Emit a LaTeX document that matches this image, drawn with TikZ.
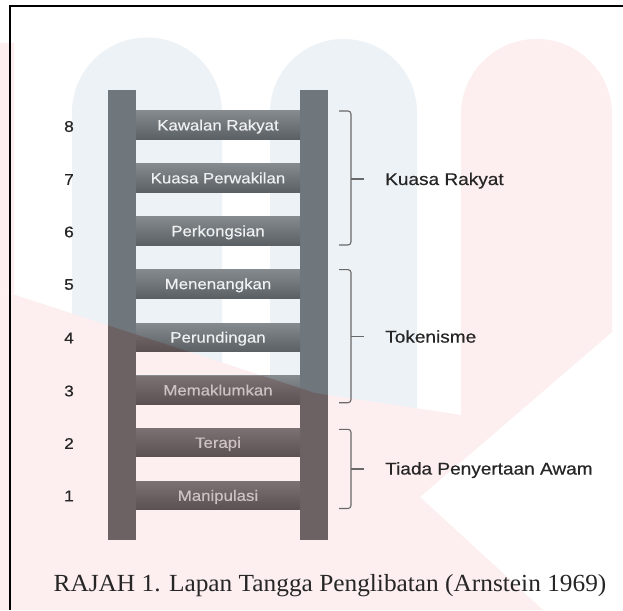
\documentclass[tikz,border=0pt]{standalone}
\usepackage{fontspec}
\newfontfamily\lsans[FakeStretch=1.12,FakeBold=0.5]{Liberation Sans}
\newfontfamily\lserif[FakeStretch=1.03]{Liberation Serif}
\definecolor{wmblue}{RGB}{237,242,247}
\definecolor{wmpink}{RGB}{253,238,239}
\definecolor{railc}{RGB}{112,119,124}
\definecolor{rungtop}{RGB}{132,138,142}
\definecolor{rungbot}{RGB}{90,96,100}
\definecolor{rungtext}{RGB}{238,240,242}
\definecolor{tintc}{RGB}{95,26,19}
\definecolor{labc}{RGB}{38,38,38}
\definecolor{bracec}{RGB}{105,105,105}
\begin{document}
\begin{tikzpicture}[x=1pt,y=-1pt,
  rung/.style={rectangle, inner sep=0pt, minimum width=164pt, minimum height=28.4pt,
    top color=rungtop, bottom color=rungbot, text=rungtext,
    font=\lsans\fontsize{15}{15}\selectfont, text height=10.7pt, text depth=0pt},
  rail/.style={rectangle, inner sep=0pt, fill=railc, minimum width=28pt, minimum height=449.7pt},
  num/.style={text=labc, font=\lsans\fontsize{15.5}{16}\selectfont, inner sep=0pt},
  grp/.style={text=labc, font=\lsans\fontsize{17}{17}\selectfont, inner sep=0pt, anchor=base west},
  bracket/.style={draw=bracec, line width=1.1pt, rounded corners=3pt},
  tickline/.style={draw=bracec, line width=1.1pt},
  tint/.style={fill=tintc, fill opacity=0.22},
  frameline/.style={draw=black, line width=1.4pt}]
\useasboundingbox (0,0) rectangle (623,610);
\fill[white] (0,0) rectangle (623,610);
% watermark
\fill[wmblue] (72,610) -- (72,112.5) arc[start angle=180, end angle=360, radius=75] -- (222,610) -- cycle;
\fill[wmblue] (270,610) -- (270,112.5) arc[start angle=180, end angle=360, radius=73.5] -- (417,610) -- cycle;
\fill[wmpink] (461,462) -- (461,114.5) arc[start angle=180, end angle=360, radius=75.5] -- (612,332) -- cycle;
\fill[wmpink] (0,290) -- (315,393) -- (461,415) -- (461,461.7) -- (420,497) -- (543,610) -- (0,610) -- cycle;
\fill[wmpink] (0,43) -- (14,43) -- (14,294) -- (0,290) -- cycle;
% ladder
\node[rail] (lrail) at (122,315.15) {};
\node[rail] (rrail) at (313.75,315.15) {};
\node[rung] (r8) at (218,125.1) {Kawalan Rakyat};
\node[rung] (r7) at (218,178.0) {Kuasa Perwakilan};
\node[rung] (r6) at (218,230.9) {Perkongsian};
\node[rung] (r5) at (218,283.8) {Menenangkan};
\node[rung] (r4) at (218,337.2) {Perundingan};
\node[rung] (r3) at (218,390.1) {Memaklumkan};
\node[rung] (r2) at (218,442.5) {Terapi};
\node[rung] (r1) at (218,495.5) {Manipulasi};
\begin{scope}
  \clip (0,290) -- (315,393) -- (461,415) -- (461,461.7) -- (420,497) -- (543,610) -- (0,610) -- cycle;
  \foreach \n in {lrail,rrail,r1,r2,r3,r4,r5,r6,r7,r8}
    \fill[tint] (\n.north west) rectangle (\n.south east);
\end{scope}
% numbers
\node[num] (n8) at (69,126.5) {8};
\node[num] (n7) at (69,179.5) {7};
\node[num] (n6) at (69,232) {6};
\node[num] (n5) at (69,284.5) {5};
\node[num] (n4) at (69,338) {4};
\node[num] (n3) at (69,391) {3};
\node[num] (n2) at (69,443.5) {2};
\node[num] (n1) at (69,496) {1};
% brackets
\coordinate (b1t) at (339,111); \coordinate (b1b) at (339,245); \coordinate (b1m) at (351,179);
\coordinate (b2t) at (339,269.6); \coordinate (b2b) at (339,402.7); \coordinate (b2m) at (351,336.6);
\coordinate (b3t) at (339,429.3); \coordinate (b3b) at (339,508.5); \coordinate (b3m) at (351,469);
\node[grp] (g1) at (385,185) {Kuasa Rakyat};
\node[grp] (g2) at (385,342.6) {Tokenisme};
\node[grp] (g3) at (385,474.5) {Tiada Penyertaan Awam};
\foreach \b in {b1,b2,b3}{
  \draw[bracket] (\b t) -- (\b m |- \b t) -- (\b m |- \b b) -- (\b b);
  \draw[tickline] (\b m) -- ++(13,0);
}
% caption
\node[text=labc, font=\lserif\fontsize{24.6}{25}\selectfont, anchor=base, inner sep=0pt] (cap) at (330,591.4) {RAJAH 1. Lapan Tangga Penglibatan (Arnstein 1969)};
% frame
\draw[frameline] (10,610) -- (10,6) -- (623,6);
\end{tikzpicture}
\end{document}
